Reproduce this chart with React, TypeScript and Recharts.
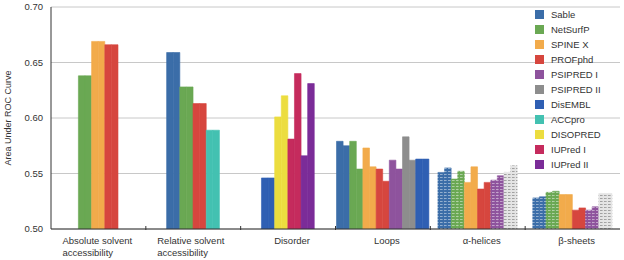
import React from "react";
import { BarChart, Bar, XAxis, YAxis, CartesianGrid, Cell, Legend } from "recharts";

const FONT = '"Liberation Sans", Arial, Helvetica, sans-serif';

const categories = [
  "Absolute solvent accessibility",
  "Relative solvent accessibility",
  "Disorder",
  "Loops",
  "α-helices",
  "β-sheets",
];
const tickLabels = [
  ["Absolute solvent", "accessibility"],
  ["Relative solvent", "accessibility"],
  ["Disorder"],
  ["Loops"],
  ["α-helices"],
  ["β-sheets"],
];
const methods = [
  "Sable",
  "NetSurfP",
  "SPINE X",
  "PROFphd",
  "PSIPRED I",
  "PSIPRED II",
  "DisEMBL",
  "ACCpro",
  "DISOPRED",
  "IUPred I",
  "IUPred II",
];
const methodColors = [
  "#3b6da8",
  "#6aa853",
  "#f2ab4b",
  "#d6463e",
  "#8e539d",
  "#8d8d8d",
  "#2f5fb3",
  "#43c1b1",
  "#ecdd3f",
  "#c52b5d",
  "#7b2c98",
];
const yTicks = [0.5, 0.55, 0.6, 0.65, 0.7];

// [method, first-half value, second-half value]
const absoluteBars: [string, number, number][] = [
  ["NetSurfP", 0.638, 0.638],
  ["SPINE X", 0.669, 0.669],
  ["PROFphd", 0.666, 0.666],
];
const relativeBars: [string, number, number][] = [
  ["Sable", 0.659, 0.659],
  ["NetSurfP", 0.628, 0.628],
  ["PROFphd", 0.613, 0.613],
  ["ACCpro", 0.589, 0.589],
];
const disorderBars: [string, number, number][] = [
  ["DisEMBL", 0.546, 0.546],
  ["DISOPRED", 0.601, 0.62],
  ["IUPred I", 0.581, 0.64],
  ["IUPred II", 0.566, 0.631],
];
const loopBars: [string, number, number][] = [
  ["Sable", 0.579, 0.575],
  ["NetSurfP", 0.579, 0.554],
  ["SPINE X", 0.573, 0.556],
  ["PROFphd", 0.554, 0.543],
  ["PSIPRED I", 0.562, 0.554],
  ["PSIPRED II", 0.583, 0.562],
  ["DisEMBL", 0.563, 0.563],
];
const helixBars: [string, number, number][] = [
  ["Sable", 0.551, 0.555],
  ["NetSurfP", 0.545, 0.552],
  ["SPINE X", 0.542, 0.556],
  ["PROFphd", 0.536, 0.542],
  ["PSIPRED I", 0.544, 0.548],
  ["PSIPRED II", 0.551, 0.557],
];
const sheetBars: [string, number, number][] = [
  ["Sable", 0.528, 0.529],
  ["NetSurfP", 0.533, 0.534],
  ["SPINE X", 0.531, 0.531],
  ["PROFphd", 0.517, 0.519],
  ["PSIPRED I", 0.517, 0.52],
  ["PSIPRED II", 0.532, 0.532],
];
const hatchedCategories = ["α-helices", "β-sheets"];
const hatchedMethods = ["Sable", "NetSurfP", "PSIPRED I", "PSIPRED II"];

const categoryBars = [absoluteBars, relativeBars, disorderBars, loopBars, helixBars, sheetBars];
const SLOT_COUNT = 14;
const slotIndexes = Array.from({ length: SLOT_COUNT }, (_, i) => i);

const tableRows = categories.map((cat, ci) => {
  const bars = categoryBars[ci];
  const row: Record<string, any> = { category: cat, index: ci };
  const start = (SLOT_COUNT - bars.length * 2) / 2;
  bars.forEach(([m, a, b], k) => {
    row[`s${start + 2 * k}`] = a;
    row[`m${start + 2 * k}`] = m;
    row[`s${start + 2 * k + 1}`] = b;
    row[`m${start + 2 * k + 1}`] = m;
  });
  return row;
});

const fillFor = (category: string, method?: string) => {
  if (!method) return "none";
  const idx = methods.indexOf(method);
  if (hatchedCategories.includes(category) && hatchedMethods.includes(method)) {
    return `url(#hatch-${idx})`;
  }
  return methodColors[idx];
};

const CategoryTick = (props: any) => {
  const { x, y, payload, index } = props;
  const lines = tickLabels[index] || [String(payload.value)];
  const half = payload && payload.offset ? payload.offset : 47.4;
  const multi = lines.length > 1;
  const tx = multi ? x - 36 : x + 4;
  return (
    <g>
      {index > 0 && (
        <line x1={x - half} x2={x - half} y1={y - 11} y2={y - 7} stroke="#333" strokeWidth={1} />
      )}
      <text
        x={tx}
        y={y + 7}
        textAnchor={multi ? "start" : "middle"}
        fontSize={9.5}
        fill="#333"
        fontFamily={FONT}
      >
        {lines.map((l, i) => (
          <tspan key={i} x={tx} dy={i === 0 ? 0 : 11.5}>
            {l}
          </tspan>
        ))}
      </text>
    </g>
  );
};

const LegendBox = () => (
  <div style={{ fontFamily: FONT, fontSize: 9.5, color: "#333" }}>
    {methods.map((m, i) => (
      <div key={m} style={{ display: "flex", alignItems: "center", height: 15, lineHeight: "15px" }}>
        <span
          style={{
            display: "inline-block",
            width: 9,
            height: 9,
            background: methodColors[i],
            marginRight: 7,
          }}
        />
        <span>{m}</span>
      </div>
    ))}
  </div>
);

export default function App() {
  return (
    <div style={{ position: "absolute", left: 0, top: 0, width: 624, height: 260, background: "#fff" }}>
      <BarChart
        width={624}
        height={260}
        data={tableRows}
        margin={{ top: 7, right: 4, bottom: 0, left: 0 }}
        barGap={0}
        barCategoryGap={0}
        barSize={6.6}
        style={{ fontFamily: FONT }}
      >
        <defs>
          {methods.map((m, i) => {
            const isGray = m === "PSIPRED II";
            return (
              <pattern
                key={m}
                id={`hatch-${i}`}
                patternUnits="userSpaceOnUse"
                width={4}
                height={3}
              >
                <rect width={4} height={3} fill={isGray ? "#e4e4e4" : methodColors[i]} />
                <rect
                  x={0}
                  y={0}
                  width={2.6}
                  height={1}
                  fill={isGray ? "#8a8a8a" : "#ffffff"}
                  opacity={isGray ? 0.75 : 0.45}
                />
              </pattern>
            );
          })}
        </defs>
        <CartesianGrid vertical={false} stroke="#c8c8c8" strokeWidth={1} />
        <XAxis
          dataKey="category"
          type="category"
          height={31}
          interval={0}
          axisLine={{ stroke: "#333", strokeWidth: 1 }}
          tickLine={false}
          tick={<CategoryTick />}
        />
        <YAxis
          type="number"
          domain={[0.5, 0.7]}
          allowDataOverflow
          ticks={yTicks}
          width={51}
          tickFormatter={(v: number) => v.toFixed(2)}
          axisLine={{ stroke: "#333", strokeWidth: 1 }}
          tickLine={false}
          tick={{ fontSize: 9.5, fill: "#333", fontFamily: FONT }}
          label={{
            value: "Area Under ROC Curve",
            angle: -90,
            position: "insideLeft",
            offset: 8,
            style: { textAnchor: "middle", fontSize: 9, fill: "#333", fontFamily: FONT },
          }}
        />
        <Legend
          layout="vertical"
          align="center"
          verticalAlign="middle"
          content={<LegendBox />}
          wrapperStyle={{ position: "absolute", left: 535, top: 6.5, width: 85, height: 170 }}
        />
        {slotIndexes.map((si) => (
          <Bar
            key={si}
            dataKey={`s${si}`}
            barSize={6.6}
            isAnimationActive={false}
            legendType="none"
          >
            {tableRows.map((row) => {
              const f = fillFor(row.category, row[`m${si}`]);
              return (
                <Cell
                  key={`${si}-${row.index}`}
                  fill={f}
                  stroke={f}
                  strokeWidth={0.6}
                />
              );
            })}
          </Bar>
        ))}
      </BarChart>
    </div>
  );
}
